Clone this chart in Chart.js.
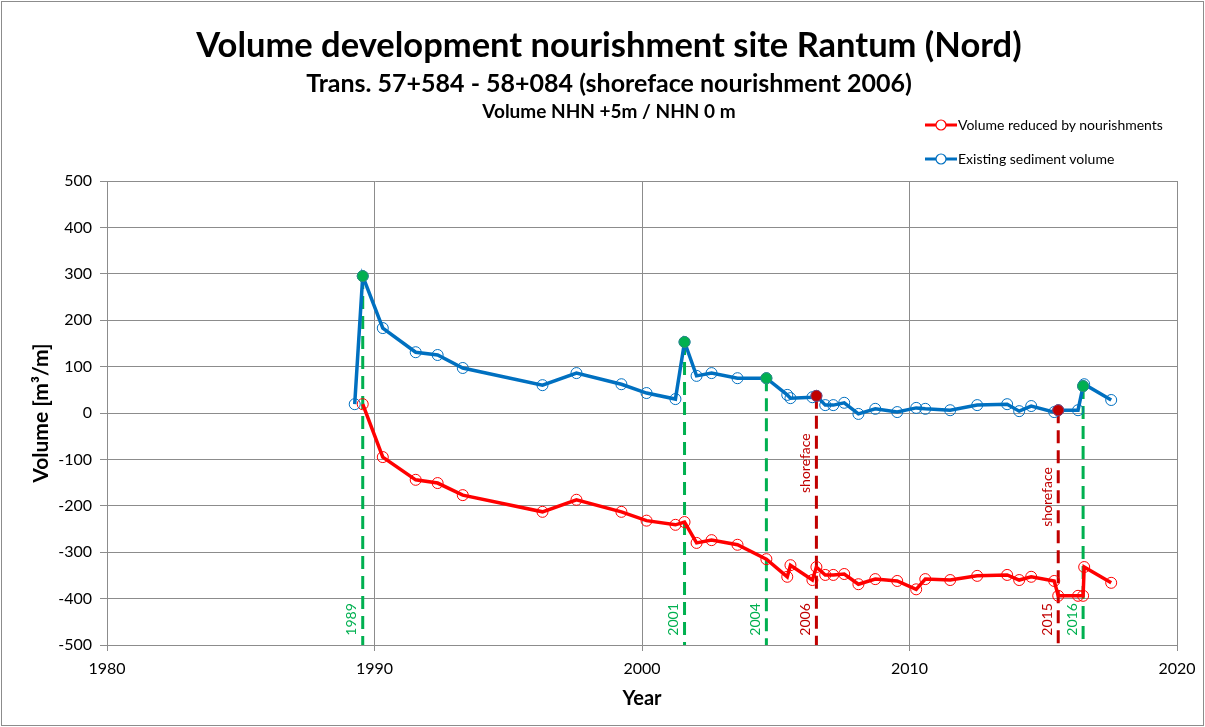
<!DOCTYPE html>
<html>
<head>
<meta charset="utf-8">
<script src="https://cdn.jsdelivr.net/npm/chart.js@4/dist/chart.umd.min.js"></script>
<style>
    html, body { margin: 0; padding: 0; background: #fff; }
    #wrap { position: relative; width: 1205px; height: 727px; font-family: Lato, 'Open Sans', sans-serif; }
    #frame { position: absolute; left: 1px; top: 1px; width: 1201px; height: 723px; border: 1px solid #8c8c8c; pointer-events: none; }
    canvas { position: absolute; left: 0; top: 0; }
    .ttl { position: absolute; left: 0; width: 1218px; text-align: center; font-weight: bold; color: #000; white-space: nowrap; }
    .leg { position: absolute; left: 925px; height: 18px; font-size: 14px; line-height: 18px; color: #000; white-space: nowrap; }
    .leg svg { vertical-align: top; margin-right: 1px; }
</style>
</head>
<body>
<div id="wrap">
    <canvas id="chart" width="1205" height="727"></canvas>
    <div class="ttl" style="top:23px;font-size:34.5px;line-height:42px;">Volume development nourishment site Rantum (Nord)</div>
    <div class="ttl" style="top:67px;font-size:25px;line-height:30px;">Trans. 57+584 - 58+084 (shoreface nourishment 2006)</div>
    <div class="ttl" style="top:100px;font-size:19px;line-height:22px;">Volume NHN +5m / NHN 0 m</div>
    <div class="leg" style="top:116px;"><svg width="32" height="18"><line x1="0" y1="9" x2="32" y2="9" stroke="#ff0000" stroke-width="3"/><circle cx="16" cy="9" r="5" fill="#fff" stroke="#ff0000" stroke-width="1.2"/></svg>Volume reduced by nourishments</div>
    <div class="leg" style="top:150px;"><svg width="32" height="18"><line x1="0" y1="9" x2="32" y2="9" stroke="#0070c0" stroke-width="3"/><circle cx="16" cy="9" r="5" fill="#fff" stroke="#0070c0" stroke-width="1.2"/></svg>Existing sediment volume</div>
    <div id="frame"></div>
</div>
<script>
    // Existing sediment volume (blue)
    const blueYears = [1989.26, 1989.56, 1990.31, 1991.54, 1992.36, 1993.30, 1996.28, 1997.55, 1999.23, 2000.17,
        2001.25, 2001.59, 2002.04, 2002.60, 2003.57, 2004.65, 2005.43, 2005.55, 2006.37, 2006.52,
        2006.85, 2007.15, 2007.56, 2008.09, 2008.72, 2009.54, 2010.25, 2010.59, 2011.52, 2012.53,
        2013.65, 2014.10, 2014.55, 2015.41, 2015.56, 2016.30, 2016.49, 2016.53, 2017.54];
    const blueVolumes = [19, 295, 183, 131, 125, 97, 60, 86, 62, 43,
        30, 153, 80, 86, 75, 75, 39, 32, 34, 37,
        17, 17, 22, -2, 9, 2, 11, 9, 6, 17,
        19, 4, 15, 2, 6, 6, 58, 62, 28];

    // Volume reduced by nourishments (red)
    const redYears = [1989.56, 1990.31, 1991.54, 1992.36, 1993.30, 1996.28, 1997.55, 1999.23, 2000.17,
        2001.25, 2001.59, 2002.04, 2002.60, 2003.57, 2004.65, 2005.43, 2005.55, 2006.37, 2006.52,
        2006.85, 2007.15, 2007.56, 2008.09, 2008.72, 2009.54, 2010.25, 2010.59, 2011.52, 2012.53,
        2013.65, 2014.10, 2014.55, 2015.41, 2015.56, 2016.30, 2016.49, 2016.53, 2017.54];
    const redVolumes = [19, -95, -144, -151, -177, -213, -187, -213, -232,
        -241, -235, -280, -274, -284, -315, -353, -328, -360, -332,
        -349, -349, -347, -369, -358, -362, -380, -358, -360, -351,
        -349, -360, -353, -362, -394, -394, -394, -332, -366];

    // Beach nourishments (green) and shoreface nourishments (dark red)
    const beachYears = [1989.56, 2001.59, 2004.65, 2016.49];
    const beachVolumes = [295, 153, 75, 58];
    const beachLabels = ['1989', '2001', '2004', '2016'];
    const shoreYears = [2006.52, 2015.56];
    const shoreVolumes = [37, 6];
    const shoreLabels = ['2006', '2015'];
    const shoreText = 'shoreface';
    const shoreTextLevels = [-108, -181];

    const yearTicks = [1980, 1990, 2000, 2010, 2020];
    const yMin = -500, yMax = 500, yStep = 100;
    const labelLevel = -445;

    const GREEN = '#00b050', DARKRED = '#c00000', RED = '#ff0000', BLUE = '#0070c0', GRID = '#8c8c8c';
    const FONT = 'Lato, "Open Sans", sans-serif';

    function pts(xs, ys) { return xs.map((x, i) => ({x, y: ys[i]})); }

    function markerLine(x, top, color) {
        return {
            data: [{x, y: top}, {x, y: yMin}], showLine: true, borderColor: color, borderWidth: 3,
            borderDash: [13, 7], pointRadius: 0, order: 5
        };
    }

    const datasets = [];
    beachYears.forEach((x, i) => datasets.push(markerLine(x, beachVolumes[i], GREEN)));
    shoreYears.forEach((x, i) => datasets.push(markerLine(x, shoreVolumes[i], DARKRED)));
    datasets.push({
        label: 'Volume reduced by nourishments', data: pts(redYears, redVolumes), showLine: true,
        borderColor: RED, borderWidth: 3.5, pointRadius: 5.5, pointBorderWidth: 1,
        pointBorderColor: RED, pointBackgroundColor: 'rgba(0,0,0,0)', order: 3
    });
    datasets.push({
        label: 'Existing sediment volume', data: pts(blueYears, blueVolumes), showLine: true,
        borderColor: BLUE, borderWidth: 3.5, pointRadius: 5.5, pointBorderWidth: 1,
        pointBorderColor: BLUE, pointBackgroundColor: 'rgba(0,0,0,0)', order: 2
    });
    datasets.push({
        data: pts(beachYears, beachVolumes), showLine: false, pointRadius: 5.5,
        pointBackgroundColor: GREEN, pointBorderColor: '#2a8f7a', pointBorderWidth: 1, order: 1
    });
    datasets.push({
        data: pts(shoreYears, shoreVolumes), showLine: false, pointRadius: 5.5,
        pointBackgroundColor: DARKRED, pointBorderColor: '#8a3a6a', pointBorderWidth: 1, order: 1
    });

    // rotated year / shoreface labels next to the dashed lines
    const markerLabels = {
        id: 'markerLabels',
        afterDatasetsDraw(chart) {
            const {ctx, scales: {x, y}} = chart;
            ctx.save();
            ctx.font = '14px ' + FONT;
            ctx.textAlign = 'center';
            ctx.textBaseline = 'middle';
            function put(text, xv, yv, color) {
                ctx.save();
                ctx.translate(x.getPixelForValue(xv) - 11, y.getPixelForValue(yv));
                ctx.rotate(-Math.PI / 2);
                ctx.fillStyle = color;
                ctx.fillText(text, 0, 0);
                ctx.restore();
            }
            beachYears.forEach((xv, i) => put(beachLabels[i], xv, labelLevel, GREEN));
            shoreYears.forEach((xv, i) => {
                put(shoreLabels[i], xv, labelLevel, DARKRED);
                put(shoreText, xv, shoreTextLevels[i], DARKRED);
            });
            ctx.restore();
        }
    };

    new Chart(document.getElementById('chart').getContext('2d'), {
        type: 'scatter',
        data: {datasets},
        options: {
            responsive: false,
            animation: false,
            events: [],
            layout: {padding: {left: 0, top: 181, right: 28, bottom: 0}},
            plugins: {legend: {display: false}, title: {display: false}, tooltip: {enabled: false}},
            scales: {
                x: {
                    type: 'linear', min: 1980, max: 2020,
                    afterBuildTicks: s => { s.ticks = yearTicks.map(v => ({value: v})); },
                    afterFit: s => { s.height = 82; },
                    grid: {color: GRID, lineWidth: 1, tickLength: 6},
                    border: {color: GRID},
                    ticks: {color: '#000', font: {family: FONT, size: 16}, padding: 8, maxRotation: 0, callback: v => String(v)},
                    title: {display: true, text: 'Year', color: '#000', font: {family: FONT, size: 20, weight: 'bold'}, padding: {top: 0, bottom: 16}}
                },
                y: {
                    min: yMin, max: yMax,
                    afterFit: s => { s.width = 107; },
                    grid: {color: GRID, lineWidth: 1, tickLength: 7},
                    border: {color: GRID},
                    ticks: {stepSize: yStep, color: '#000', font: {family: FONT, size: 16}, padding: 8},
                    title: {display: true, text: 'Volume [m³/m]', color: '#000', font: {family: FONT, size: 21, weight: 'bold'}, padding: {top: 29, bottom: 0}}
                }
            }
        },
        plugins: [markerLabels]
    });
</script>
</body>
</html>
